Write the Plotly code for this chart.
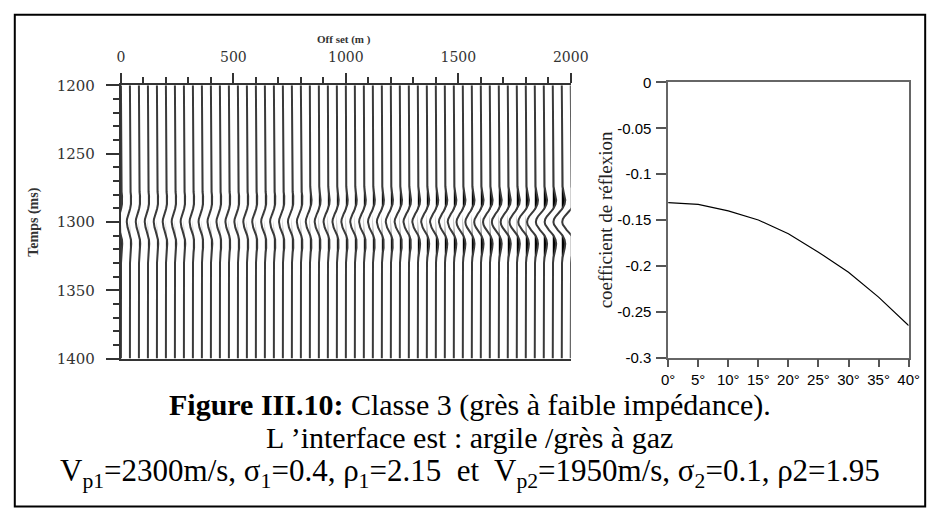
import plotly.graph_objects as go

# ---------------- data ----------------
# left panel: NMO-corrected synthetic gather
offsets = [0, 40, 80, 120, 160, 200, 240, 280, 320, 360, 400, 440, 480, 520, 560,
           600, 640, 680, 720, 760, 800, 840, 880, 920, 960, 1000, 1040, 1080, 1120,
           1160, 1200, 1240, 1280, 1320, 1360, 1400, 1440, 1480, 1520, 1560, 1600,
           1640, 1680, 1720, 1760, 1800, 1840, 1880, 1920, 1960, 2000]
# trough deflection of each trace (in offset units, m)
trace_gain = [14.0, 14.0, 14.0, 14.1, 14.2, 14.2, 14.3, 14.5, 14.6, 14.8, 15.0,
              15.2, 15.4, 15.6, 15.9, 16.2, 16.5, 16.8, 17.1, 17.5, 17.8, 18.2,
              18.6, 19.1, 19.5, 20.0, 20.5, 21.0, 21.5, 22.1, 22.6, 23.2, 23.8,
              24.5, 25.1, 25.8, 26.4, 27.1, 27.9, 28.6, 29.4, 30.1, 30.9, 31.8,
              32.6, 33.4, 34.3, 35.2, 36.1, 37.1, 38.0]
# wavelet (relative time in ms, normalised amplitude)
wavelet_t = [-30, -26, -22, -19, -16, -13, -10, -8, -6, -4, -2, 0,
             2, 4, 6, 8, 10, 13, 16, 19, 22, 26, 30]
wavelet_a = [0.03, 0.10, 0.22, 0.36, 0.42, 0.34, 0.10, -0.17, -0.47, -0.74, -0.93, -1.0,
             -0.93, -0.74, -0.47, -0.17, 0.10, 0.34, 0.42, 0.36, 0.22, 0.10, 0.03]
event_time = 1300
time_top, time_bottom = 1200, 1400

# right panel: reflection coefficient vs incidence angle
angles = [0, 5, 10, 15, 20, 25, 30, 35, 40]
refl = [-0.131, -0.133, -0.140, -0.150, -0.165, -0.185, -0.207, -0.234, -0.265]
refl_ticks = [0, -0.05, -0.1, -0.15, -0.2, -0.25, -0.3]
refl_tick_labels = ['0', '-0.05', '-0.1', '-0.15', '-0.2', '-0.25', '-0.3']

# ---------------- layout helpers ----------------
W, H = 950, 526
def fx(px):
    return px / W
def fy(py):
    return 1 - py / H

fig = go.Figure()

# wiggle traces
line_x, line_y = [], []
for off, g in zip(offsets, trace_gain):
    ys = [time_top] + [event_time + t for t in wavelet_t] + [time_bottom]
    xs = [off] + [off + g * a for a in wavelet_a] + [off]
    xp = [off] + [off + g * max(a, 0) for a in wavelet_a] + [off]
    fig.add_trace(go.Scatter(x=xp, y=ys, mode='lines', fill='toself',
                             fillcolor='black', line=dict(width=0, color='black'),
                             hoverinfo='skip', xaxis='x', yaxis='y'))
    line_x += xs + [None]
    line_y += ys + [None]
fig.add_trace(go.Scatter(x=line_x, y=line_y, mode='lines',
                         line=dict(color='#3a3a3a', width=2),
                         hoverinfo='skip', xaxis='x', yaxis='y'))

# AVO curve
fig.add_trace(go.Scatter(x=angles, y=refl, mode='lines',
                         line=dict(color='black', width=1.2),
                         xaxis='x2', yaxis='y2'))

axcol = '#333333'
fig.update_layout(
    width=W, height=H, margin=dict(l=0, r=0, t=0, b=0),
    paper_bgcolor='white', plot_bgcolor='white', showlegend=False,
    xaxis=dict(domain=[fx(117), fx(579)], range=[0, 2000], side='top', anchor='y',
               tick0=0, dtick=500, ticks='outside', ticklen=10, tickwidth=2,
               tickcolor=axcol, showline=True, linecolor=axcol, linewidth=2,
               mirror=True, showgrid=False, zeroline=False,
               minor=dict(dtick=100, ticks='outside', ticklen=6, tickwidth=2,
                          tickcolor=axcol, showgrid=False),
               tickfont=dict(family='DejaVu Serif', size=14, color=axcol),
               ticklabelstandoff=6),
    yaxis=dict(domain=[fy(362), fy(79)], range=[time_bottom, time_top], anchor='x',
               tick0=1200, dtick=50, ticks='outside', ticklen=13, tickwidth=2,
               tickcolor=axcol, showline=True, linecolor=axcol, linewidth=2,
               showgrid=False, zeroline=False,
               minor=dict(dtick=10, ticks='outside', ticklen=6, tickwidth=2,
                          tickcolor=axcol, showgrid=False),
               tickfont=dict(family='DejaVu Serif', size=15, color=axcol),
               ticklabelstandoff=8),
    xaxis2=dict(domain=[fx(679), fx(926)], range=[0, 40], anchor='y2',
                tick0=0, dtick=5, ticksuffix='°', ticks='outside', ticklen=8,
                tickwidth=1.5, tickcolor='#555555', showline=True,
                linecolor='#666666', linewidth=1.5, mirror=True, showgrid=False,
                zeroline=False,
                tickfont=dict(family='Liberation Sans', size=15, color='black')),
    yaxis2=dict(domain=[fy(361), fy(76)], range=[-0.3, 0], anchor='x2',
                tickvals=refl_ticks, ticktext=refl_tick_labels, ticks='outside',
                ticklen=10, tickwidth=1.5, tickcolor='#555555', showline=True,
                linecolor='#666666', linewidth=1.5, mirror=True, showgrid=False,
                zeroline=False,
                tickfont=dict(family='Liberation Sans', size=15, color='black'),
                ticklabelstandoff=2),
)

fig.add_shape(type='rect', xref='paper', yref='paper', x0=fx(8), x1=fx(943),
              y0=fy(515), y1=fy(6), line=dict(color='black', width=2),
              fillcolor='rgba(0,0,0,0)')

serif = 'Liberation Serif'
annots = [
    dict(text='<b>Off set (m )</b>', x=fx(346), y=fy(32),
         font=dict(family=serif, size=11, color=axcol)),
    dict(text='<b>Temps (ms)</b>', x=fx(28), y=fy(221), textangle=-90,
         font=dict(family=serif, size=14, color=axcol)),
    dict(text='coefficient de réflexion', x=fx(615), y=fy(218), textangle=-90,
         font=dict(family=serif, size=19, color='#222222')),
    dict(text='<b>Figure III.10:</b> Classe 3 (grès à faible impédance).',
         x=0.5, y=fy(410), font=dict(family=serif, size=30, color='black')),
    dict(text='L ’interface est : argile /grès à gaz',
         x=0.5, y=fy(444), font=dict(family=serif, size=30, color='black')),
    dict(text='V<sub>p1</sub>=2300m/s, σ<sub>1</sub>=0.4, ρ<sub>1</sub>=2.15\u00a0 et\u00a0 '
              'V<sub>p2</sub>=1950m/s, σ<sub>2</sub>=0.1, ρ2=1.95',
         x=0.5, y=fy(480), font=dict(family=serif, size=31, color='black')),
]
for a in annots:
    fig.add_annotation(xref='paper', yref='paper', showarrow=False,
                       xanchor='center', yanchor='middle', **a)

fig.write_html('out.html')
